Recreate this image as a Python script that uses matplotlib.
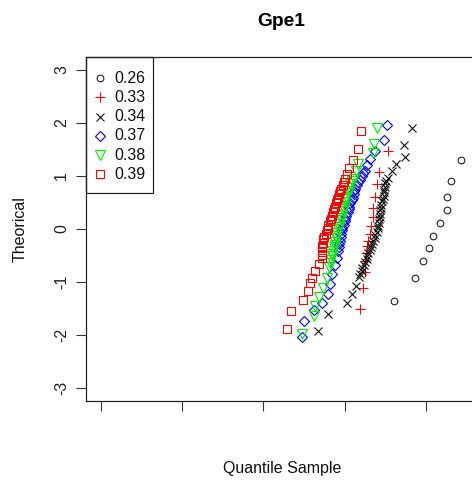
import matplotlib
matplotlib.use("Agg")
import matplotlib.pyplot as plt
from matplotlib.patches import Rectangle

plt.rcParams['font.family'] = ['Liberation Sans', 'DejaVu Sans']

# ---- data -------------------------------------------------------------
labels = ["0.26", "0.33", "0.34", "0.37", "0.38", "0.39"]

x_026 = [4.43, 4.31, 4.26, 4.26, 4.17, 4.09, 4.04, 3.96, 3.87, 3.61]
y_026 = [1.31, 0.90, 0.60, 0.35, 0.11, -0.13, -0.36, -0.61, -0.92, -1.36]

x_033 = [3.53, 3.42, 3.40, 3.37, 3.35, 3.35, 3.33, 3.31, 3.29, 3.28, 3.26,
         3.25, 3.25, 3.23, 3.19]
y_033 = [1.48, 1.07, 0.85, 0.60, 0.40, 0.22, 0.06, -0.09, -0.22, -0.32, -0.45,
         -0.60, -0.82, -1.11, -1.51]

x_034 = [3.83, 3.73, 3.74, 3.63, 3.58, 3.53,
         3.51, 3.50, 3.50, 3.49, 3.48, 3.48, 3.47, 3.46, 3.45, 3.45, 3.44, 3.44,
         3.43, 3.42, 3.42, 3.41, 3.41,
         3.40, 3.38, 3.37, 3.35, 3.34, 3.32, 3.31, 3.29, 3.28, 3.27, 3.25, 3.24,
         3.22, 3.21, 3.19, 3.18,
         3.14, 3.09, 3.03, 2.79, 2.67]
y_034 = [1.90, 1.58, 1.36, 1.23, 1.10, 0.97,
         0.91, 0.86, 0.80, 0.74, 0.69, 0.63, 0.57, 0.52, 0.46, 0.40, 0.35, 0.29,
         0.23, 0.18, 0.12, 0.06, 0.01,
         -0.05, -0.11, -0.17, -0.22, -0.28, -0.34, -0.39, -0.45, -0.51, -0.56,
         -0.62, -0.68, -0.73, -0.79, -0.85, -0.90,
         -1.07, -1.22, -1.39, -1.61, -1.93]

x_037 = [3.52, 3.48, 3.37, 3.31, 3.28,
         3.25, 3.23, 3.21, 3.19, 3.17, 3.15, 3.13, 3.12, 3.11, 3.10, 3.09, 3.07,
         3.06, 3.05, 3.04, 3.02, 3.01, 3.00, 2.99, 2.97, 2.97, 2.96, 2.95, 2.94,
         2.93, 2.93,
         2.92, 2.91, 2.88, 2.84, 2.82, 2.80, 2.72, 2.62, 2.50, 2.47]
y_037 = [1.97, 1.68, 1.47, 1.32, 1.20,
         1.10, 1.05, 0.99, 0.93, 0.88, 0.82, 0.76, 0.71, 0.65, 0.59, 0.54, 0.48,
         0.42, 0.37, 0.31, 0.25, 0.19, 0.14, 0.08, 0.02, -0.03, -0.09, -0.15, -0.22,
         -0.28, -0.35,
         -0.41, -0.54, -0.69, -0.85, -1.04, -1.23, -1.39, -1.53, -1.73, -2.04]

x_038 = [3.40, 3.36, 3.35, 3.16, 3.14, 3.11,
         3.09, 3.07, 3.06, 3.05, 3.04, 3.02, 3.01, 3.01, 3.00, 2.99, 2.98, 2.97,
         2.96, 2.95, 2.94, 2.93, 2.92, 2.91, 2.90, 2.89, 2.88, 2.88, 2.87, 2.86,
         2.85, 2.84, 2.83, 2.82, 2.81,
         2.78, 2.74, 2.68, 2.64, 2.62, 2.47]
y_038 = [1.91, 1.61, 1.43, 1.23, 1.10, 0.95,
         0.90, 0.84, 0.78, 0.72, 0.67, 0.61, 0.56, 0.50, 0.44, 0.38, 0.33, 0.27,
         0.21, 0.16, 0.10, 0.04, -0.01, -0.07, -0.13, -0.18, -0.24, -0.30, -0.35,
         -0.41, -0.47, -0.52, -0.58, -0.64, -0.71,
         -0.92, -1.11, -1.29, -1.45, -1.64, -1.99]

x_039 = [3.20, 3.17, 3.10, 3.05, 3.03, 3.01,
         2.99, 2.98, 2.96, 2.94, 2.93, 2.92, 2.91, 2.89, 2.88, 2.87, 2.86, 2.85,
         2.83, 2.82, 2.80, 2.79, 2.78, 2.77, 2.75, 2.74, 2.73, 2.72, 2.72, 2.72,
         2.72, 2.72,
         2.68, 2.64, 2.60, 2.58, 2.55, 2.49, 2.34, 2.29]
y_039 = [1.85, 1.51, 1.31, 1.15, 1.03, 0.95,
         0.88, 0.82, 0.76, 0.71, 0.65, 0.59, 0.54, 0.48, 0.42, 0.37, 0.31, 0.25,
         0.19, 0.14, 0.08, 0.02, -0.03, -0.09, -0.15, -0.20, -0.26, -0.32, -0.37,
         -0.43, -0.49, -0.54,
         -0.66, -0.79, -0.92, -1.03, -1.17, -1.34, -1.55, -1.89]

x_ticks = [0, 1, 2, 3, 4]
y_ticks = [-3, -2, -1, 0, 1, 2, 3]

# ---- styles -------------------------------------------------------------
series = [
    (x_026, y_026, dict(marker='o', ms=4.8, mfc='none', mec='#222222')),
    (x_033, y_033, dict(marker='+', ms=7.2, mec='#ff0000')),
    (x_034, y_034, dict(marker='x', ms=5.6, mec='#111111')),
    (x_037, y_037, dict(marker='D', ms=4.6, mfc='none', mec='#0000ff')),
    (x_038, y_038, dict(marker='v', ms=6.6, mfc='none', mec='#00ee00')),
    (x_039, y_039, dict(marker='s', ms=5.8, mfc='none', mec='#ff0000')),
]

W, H = 472, 482
fig = plt.figure(figsize=(W / 100, H / 100), dpi=100)

# plot region in pixels: left 85.7, right 477 (runs past the edge), top 57.3, bottom 400.5
L, R, T, B = 85.7, 477.0, 57.3, 400.5
ax = fig.add_axes([L / W, 1 - B / H, (R - L) / W, (B - T) / H])

for xs, ys, st in series:
    ax.plot(xs, ys, linestyle='none', mew=0.8, **st)

ax.set_xlim(-0.1845, 4.6285)
ax.set_ylim(-3.24, 3.24)

ax.set_xticks(x_ticks)
ax.set_xticklabels([''] * len(x_ticks))
ax.set_yticks(y_ticks)
ax.set_yticklabels([str(v) for v in y_ticks], rotation=90, va='center',
                   fontsize=11.5, color='#222222')
ax.tick_params(axis='both', length=7, width=0.8, color='#333333')
ax.tick_params(axis='y', pad=5)
for sp in ax.spines.values():
    sp.set_linewidth(0.9)
    sp.set_color('#222222')

# legend box in the upper-left corner
aw, ah = R - L, B - T
ax.add_patch(Rectangle((0, (B - 192.7) / ah), (152.7 - L) / aw, (192.7 - T) / ah,
                       transform=ax.transAxes, fill=False, lw=0.9,
                       ec='#222222', clip_on=False, zorder=5))
for i, ((xs, ys, st), lab) in enumerate(zip(series, labels)):
    py = 78.3 + 19.2 * i
    yf = (B - py) / ah
    ax.plot([(100 - L) / aw], [yf], transform=ax.transAxes, linestyle='none',
            mew=0.8, clip_on=False, **st)
    ax.text((114.3 - L) / aw, yf, lab, transform=ax.transAxes, ha='left',
            va='center', fontsize=11.5, color='#111111')

fig.text(281.4 / W, 1 - 22 / H, 'Gpe1', ha='center', va='center',
         fontsize=13.8, fontweight='bold')
fig.text(282 / W, 1 - 468 / H, 'Quantile Sample', ha='center', va='center',
         fontsize=11.5, color='#111111')
fig.text(20 / W, 1 - 229 / H, 'Theorical', ha='center', va='center',
         rotation=90, fontsize=11.5, color='#111111')

fig.savefig('out.png', dpi=100, facecolor='white')
